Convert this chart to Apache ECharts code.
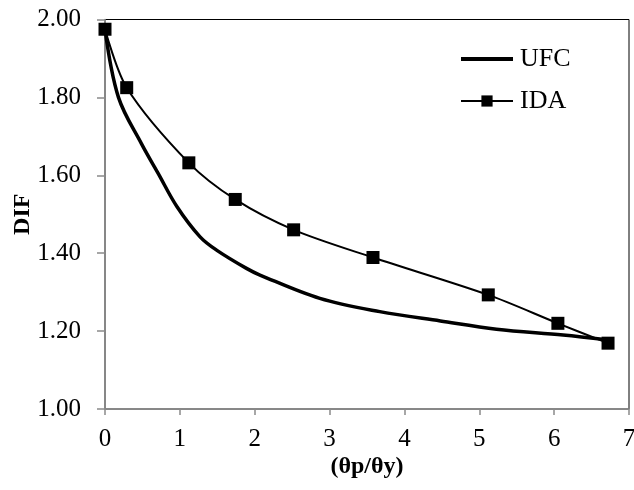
<!DOCTYPE html>
<html>
<head>
<meta charset="UTF-8">
<script src="https://cdn.jsdelivr.net/npm/echarts@6/dist/echarts.min.js"></script>
<title>DIF vs (θp/θy)</title>
<style>
  html, body { margin: 0; padding: 0; background: #fff; }
  #container { width: 634px; height: 490px; }
</style>
</head>
<body>
<div id="container"></div>
<script>
// data
var ufcX = [0, 0.18, 0.49, 0.71, 0.96, 1.27, 1.49, 1.89, 2.07, 2.87, 3.67, 4.48, 5.23, 6.12, 6.70];
var ufcY = [1.975, 1.80, 1.68, 1.605, 1.52, 1.442, 1.408, 1.361, 1.344, 1.284, 1.250, 1.226, 1.205, 1.190, 1.178];
var idaX = [0, 0.29, 1.12, 1.74, 2.52, 3.58, 5.12, 6.05, 6.72];
var idaY = [1.975, 1.825, 1.632, 1.538, 1.460, 1.389, 1.293, 1.220, 1.169];
var xTicks = [0, 1, 2, 3, 4, 5, 6, 7];
var yTicks = ['1.00', '1.20', '1.40', '1.60', '1.80', '2.00'];

function pairs(xs, ys) {
  var out = [];
  for (var i = 0; i < xs.length; i++) out.push([xs[i], ys[i]]);
  return out;
}

var font = 'Liberation Serif, Times New Roman, serif';
var axisGray = '#8a8a8a';

var myChart = echarts.init(document.getElementById('container'));
var option = {
  backgroundColor: '#fff',
  animation: false,
  textStyle: { fontFamily: font, color: '#000' },
  grid: {
    left: 105, right: 5, top: 19.5, bottom: 81,
    outerBoundsMode: 'none',
    show: true, borderColor: '#000', borderWidth: 1
  },
  legend: {
    left: 459, top: 46,
    padding: 0,
    orient: 'vertical',
    itemWidth: 52, itemHeight: 14, itemGap: 16,
    textStyle: { fontFamily: font, fontSize: 26, color: '#000', padding: [0, 0, 0, 2] },
    data: [
      { name: 'UFC', itemStyle: { opacity: 0 }, lineStyle: { width: 4, color: '#000' } },
      { name: 'IDA', lineStyle: { width: 2, color: '#000' } }
    ]
  },
  xAxis: {
    type: 'value',
    min: xTicks[0], max: xTicks[xTicks.length - 1], interval: 1,
    name: '(θp/θy)',
    nameLocation: 'middle',
    nameGap: 46,
    nameMoveOverlap: false,
    nameTextStyle: { fontFamily: font, fontSize: 24, fontWeight: 'bold', color: '#000' },
    axisLine: { onZero: false, lineStyle: { color: axisGray, width: 1.5 } },
    axisTick: { length: 6, lineStyle: { color: axisGray, width: 1.5 } },
    axisLabel: { margin: 18, fontSize: 25, color: '#000', fontFamily: font },
    splitLine: { show: false }
  },
  yAxis: {
    type: 'value',
    min: 1, max: 2, interval: 0.2,
    name: 'DIF',
    nameLocation: 'middle',
    nameRotate: 90,
    nameGap: 70,
    nameMoveOverlap: false,
    nameTextStyle: { fontFamily: font, fontSize: 24, fontWeight: 'bold', color: '#000' },
    axisLine: { show: true, lineStyle: { color: axisGray, width: 1.5 } },
    axisTick: { show: true, length: 8, lineStyle: { color: axisGray, width: 1.5 } },
    axisLabel: {
      margin: 24, fontSize: 25, color: '#000', fontFamily: font,
      formatter: function (v) { return yTicks[Math.round((v - 1) / 0.2)]; }
    },
    splitLine: { show: false }
  },
  series: [
    {
      name: 'UFC',
      type: 'line',
      data: pairs(ufcX, ufcY),
      smooth: 0.35,
      showSymbol: false,
      symbol: 'none',
      lineStyle: { color: '#000', width: 3.5 },
      itemStyle: { color: '#000' }
    },
    {
      name: 'IDA',
      type: 'line',
      data: pairs(idaX, idaY),
      smooth: 0.3,
      symbol: 'rect',
      symbolSize: 13,
      lineStyle: { color: '#000', width: 2 },
      itemStyle: { color: '#000' }
    }
  ]
};
myChart.setOption(option);
</script>
</body>
</html>
